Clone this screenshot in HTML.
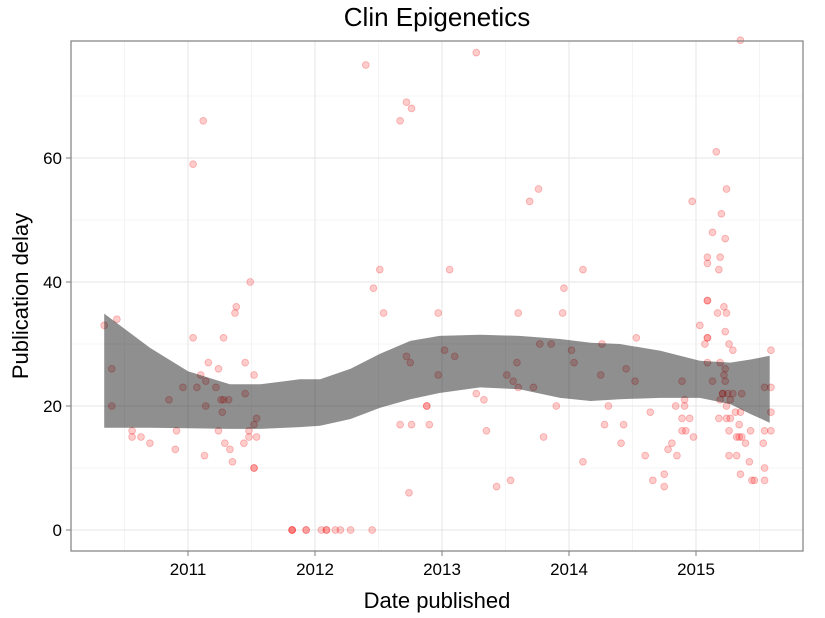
<!DOCTYPE html>
<html><head><meta charset="utf-8"><style>
html,body{margin:0;padding:0;background:#fff}
svg{display:block;font-family:"Liberation Sans",Arial,sans-serif}
</style></head><body>
<svg id="chart" width="825" height="618" viewBox="0 0 825 618" xmlns="http://www.w3.org/2000/svg">
<text x="437" y="26" font-size="26" text-anchor="middle" fill="#000">Clin Epigenetics</text>
<g id="grid"></g>
<g id="points"></g>
<g id="band"></g>
<rect x="71" y="41" width="732" height="510" fill="none" stroke="#7f7f7f" stroke-width="1.2"/>
<g id="axes"></g>
<text x="437" y="608" font-size="22" text-anchor="middle" fill="#000">Date published</text>
<text transform="translate(28,296) rotate(-90)" font-size="22" text-anchor="middle" fill="#000">Publication delay</text>
</svg>
<script>
const xTicks=[2011,2012,2013,2014,2015];
const yTicks=[0,20,40,60];
const pubYear=[
2011.12,2011.04,2011.49,2011.38,2011.37,2010.44,2010.34,2011.04,2011.28,2011.16,2011.45,2010.40,2011.24,2011.10,2011.52,2011.14,2010.96,2011.07,2011.22,2011.45,2010.85,2011.26,2011.28,2011.32,2010.40,2011.14,2011.27,2011.54,2011.52,2010.56,2010.91,2011.24,2011.48,2010.56,2010.63,2011.48,2011.54,2010.70,2011.29,2011.44,2010.90,2011.33,2011.13,2011.35,2011.52,2011.52,
2011.82,2011.82,2011.82,2011.93,2011.93,2012.05,2012.09,2012.09,2012.16,2012.20,2012.28,2012.45,
2012.40,2013.27,2012.72,2012.76,2012.67,2013.76,2013.69,2012.51,2013.06,2014.11,2012.46,2013.96,2012.54,2012.97,2013.60,2013.95,2013.77,2013.86,2013.02,2014.02,2012.72,2013.10,2012.75,2013.59,2014.04,2012.97,2013.51,2013.56,2013.60,2013.72,2013.27,2013.33,2012.88,2012.88,2013.90,2012.67,2012.76,2012.90,2013.35,2013.80,2013.54,2013.43,2012.74,
2015.35,2015.16,2015.24,2014.97,2015.20,2015.13,2015.23,
2015.09,2015.09,2015.19,2015.18,
2015.09,2015.09,2015.22,2015.17,2015.24,2015.03,
2014.53,2015.09,2015.09,2015.23,
2014.26,2015.07,2015.26,2015.29,2015.59,
2015.09,2015.19,2014.45,2015.23,2014.25,2015.22,
2014.52,2014.89,2015.13,2015.23,2015.54,2015.59,
2015.21,2015.21,2015.29,2015.36,2015.25,
2014.91,2015.19,2015.27,
2014.31,2014.84,2014.91,2015.24,
2014.64,2015.31,2015.35,2015.59,
2014.89,2014.95,2015.18,2015.24,2015.27,
2014.28,2014.43,2015.34,
2014.89,2014.92,2015.26,2015.43,2015.54,2015.59,
2014.98,2015.32,2015.34,2015.36,
2014.41,2014.81,2015.39,2015.53,
2014.78,
2014.60,2014.85,2015.26,2015.32,
2014.11,2015.42,2015.54,
2014.75,2015.35,
2014.66,2015.44,2015.46,2015.54,
2014.75];
const delay=[
66,59,40,36,35,34,33,31,31,27,27,26,26,25,25,24,23,23,23,22,21,21,21,21,20,20,19,18,17,16,16,16,16,15,15,15,15,14,14,14,13,13,12,11,10,10,
0,0,0,0,0,0,0,0,0,0,0,0,
75,77,69,68,66,55,53,42,42,42,39,39,35,35,35,35,30,30,29,29,28,28,27,27,27,25,25,24,23,23,22,21,20,20,20,17,17,17,16,15,8,7,6,
79,61,55,53,51,48,47,
44,43,44,42,
37,37,36,35,35,33,
31,31,31,32,
30,30,30,29,29,
27,27,26,26,25,25,
24,24,24,24,23,23,
22,22,22,22,22,
21,21,21,
20,20,20,20,
19,19,19,19,
18,18,18,18,18,
17,17,17,
16,16,16,16,16,16,
15,15,15,15,
14,14,14,14,
13,
12,12,12,12,
11,11,10,
9,9,
8,8,8,8,
7];
const bandYear=[2010.34,2010.70,2011.00,2011.33,2011.57,2011.88,2012.04,2012.28,2012.51,2012.75,2012.98,2013.30,2013.61,2013.93,2014.17,2014.40,2014.72,2015.03,2015.27,2015.43,2015.58];
const bandUpper=[34.9,29.4,25.6,23.5,23.5,24.3,24.3,26.0,28.4,30.5,31.3,31.5,31.3,30.8,30.2,30.0,28.9,27.3,27.0,27.5,28.1];
const bandLower=[16.5,16.5,16.4,16.3,16.3,16.6,16.8,17.9,19.7,21.1,22.1,23.0,22.7,21.3,20.8,21.1,21.3,21.3,20.3,18.7,17.3];

const NS="http://www.w3.org/2000/svg";
const X=v=>188+(v-2011)*127.0;
const Y=v=>530-v*6.2;
function mk(tag,attrs,parent){const e=document.createElementNS(NS,tag);for(const k in attrs)e.setAttribute(k,attrs[k]);parent.appendChild(e);return e;}
const grid=document.getElementById('grid');
mk('rect',{x:71,y:41,width:732,height:510,fill:'#fff'},grid);
for(let yv=10;yv<80;yv+=20){const l=mk('line',{x1:71,x2:803,y1:Y(yv),y2:Y(yv),stroke:'#f4f4f4','stroke-width':1},grid);

}
for(let xv=2010.5;xv<2016;xv+=1){const l=mk('line',{x1:X(xv),x2:X(xv),y1:41,y2:551,stroke:'#f4f4f4','stroke-width':1},grid);

}
yTicks.forEach(t=>{const l=mk('line',{x1:71,x2:803,y1:Y(t),y2:Y(t),stroke:'#e6e6e6','stroke-width':1.1},grid);

});
xTicks.forEach(t=>{const l=mk('line',{x1:X(t),x2:X(t),y1:41,y2:551,stroke:'#e6e6e6','stroke-width':1.1},grid);

});
const pts=document.getElementById('points');
pubYear.forEach((d,i)=>{const c=mk('circle',{cx:X(d),cy:Y(delay[i]),r:3.4,fill:'rgba(255,0,0,0.2)',stroke:'rgba(230,0,0,0.25)','stroke-width':0.9},pts);

});
const band=document.getElementById('band');
let dstr='M'+bandYear.map((y,i)=>X(y).toFixed(1)+','+Y(bandUpper[i]).toFixed(1)).join(' L');
for(let i=bandYear.length-1;i>=0;i--)dstr+=' L'+X(bandYear[i]).toFixed(1)+','+Y(bandLower[i]).toFixed(1);
dstr+=' Z';
const bp=mk('path',{d:dstr,fill:'#000','fill-opacity':0.44,stroke:'none'},band);


const axes=document.getElementById('axes');
yTicks.forEach(t=>{mk('line',{x1:66,x2:71,y1:Y(t),y2:Y(t),stroke:'#7f7f7f'},axes);
const tx=mk('text',{x:62,y:Y(t)+6,'font-size':17,'text-anchor':'end',fill:'#000'},axes);tx.textContent=t;

});
xTicks.forEach(t=>{mk('line',{x1:X(t),x2:X(t),y1:551,y2:556,stroke:'#7f7f7f'},axes);
const tx=mk('text',{x:X(t),y:575,'font-size':17,'text-anchor':'middle',fill:'#000'},axes);tx.textContent=t;

});
</script>
</body></html>
